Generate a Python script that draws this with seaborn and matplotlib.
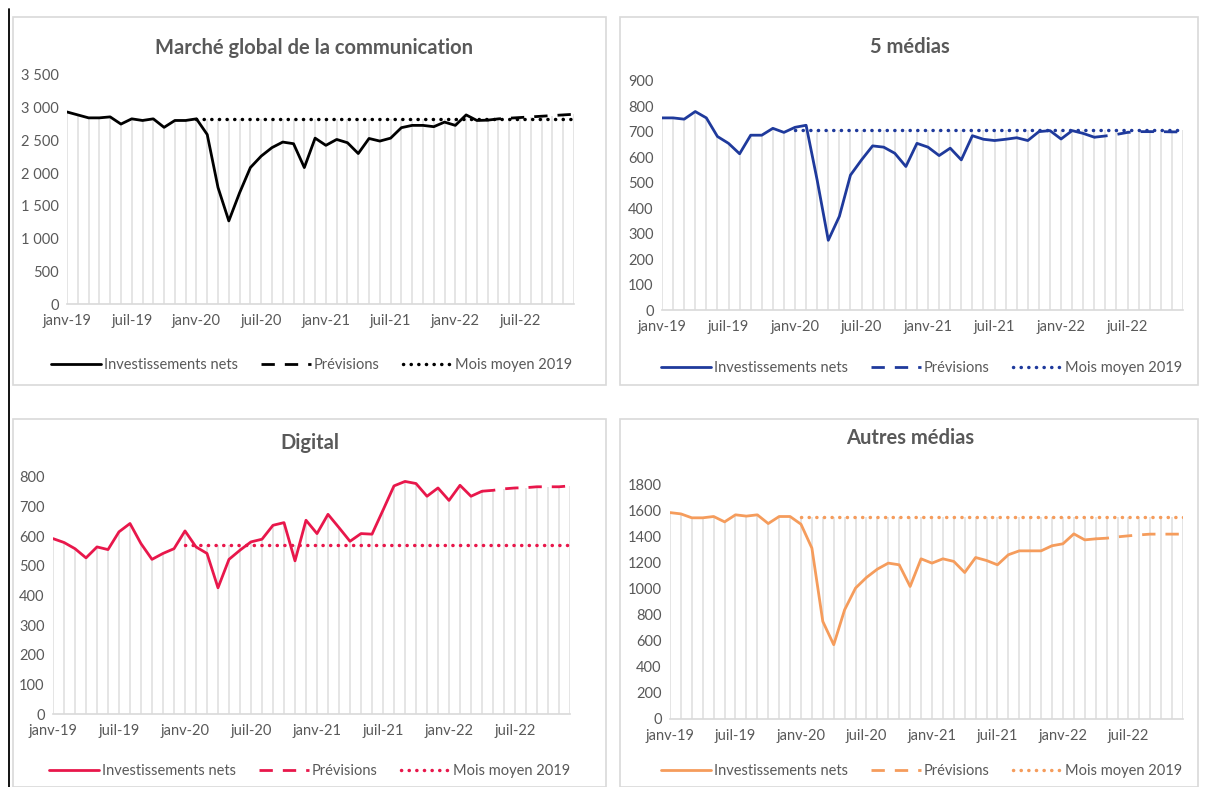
import numpy as np
import pandas as pd
import matplotlib
matplotlib.use("Agg")
import matplotlib.pyplot as plt
from matplotlib.lines import Line2D
from matplotlib.patches import Rectangle
import matplotlib.ticker as mticker
import seaborn as sns

# ---------------- data ----------------
month_names = ["janv", "févr", "mars", "avr", "mai", "juin",
               "juil", "août", "sept", "oct", "nov", "déc"]
years = ["19", "20", "21", "22"]
months = [f"{m}-{y}" for y in years for m in month_names]  # 48 months

titles = ["Marché global de la communication", "5 médias", "Digital", "Autres médias"]

global_actual = [2935, 2890, 2845, 2845, 2860, 2750, 2830, 2805, 2830, 2700, 2805, 2805,
                 2830, 2590, 1780, 1270, 1700, 2085, 2260, 2390, 2475, 2450, 2085, 2535,
                 2425, 2515, 2465, 2300, 2530, 2490, 2535, 2695, 2730, 2730, 2710, 2780,
                 2730, 2890, 2805, 2810]
global_forecast = [2810, 2830, 2840, 2850, 2860, 2870, 2880, 2890, 2900]
global_mean = 2822

medias5_actual = [755, 755, 750, 780, 755, 682, 655, 614, 687, 687, 714, 698,
                  718, 726, 510, 274, 368, 530, 590, 645, 640, 616, 564, 655,
                  640, 607, 636, 590, 685, 671, 666, 671, 677, 666, 701, 705,
                  672, 705, 694, 679]
medias5_forecast = [679, 684, 690, 698, 701, 701, 701, 700, 700]
medias5_mean = 707

digital_actual = [592, 579, 558, 527, 564, 555, 615, 643, 575, 522, 542, 558,
                  618, 564, 542, 426, 522, 553, 581, 590, 637, 646, 517, 654,
                  609, 674, 629, 583, 609, 607, 688, 770, 785, 778, 735, 763,
                  721, 772, 735, 752]
digital_forecast = [752, 755, 760, 763, 764, 767, 767, 767, 770]
digital_mean = 570

autres_actual = [1581, 1571, 1541, 1541, 1551, 1510, 1564, 1554, 1564, 1497, 1551, 1551,
                 1492, 1309, 747, 569, 837, 1003, 1084, 1148, 1194, 1181, 1015, 1227,
                 1194, 1227, 1207, 1122, 1237, 1214, 1181, 1258, 1288, 1288, 1288, 1327,
                 1342, 1418, 1372, 1380]
autres_forecast = [1380, 1385, 1395, 1403, 1410, 1416, 1416, 1416, 1416]
autres_mean = 1546

mean_start = 12  # janv-20
forecast_start = 39  # avr-22

colors = ["#000000", "#1F3A9C", "#E8174B", "#F59C5C"]
ylims = [3500, 900, 800, 1800]
ysteps = [500, 100, 100, 200]
thousand_sep = [True, False, False, False]

series = [
    (global_actual, global_forecast, global_mean),
    (medias5_actual, medias5_forecast, medias5_mean),
    (digital_actual, digital_forecast, digital_mean),
    (autres_actual, autres_forecast, autres_mean),
]

# ---------------- style ----------------
sns.set_theme(style="white")
plt.rcParams["font.family"] = ["Lato", "DejaVu Sans"]
TXT = "#595959"
GRID = "#D9D9D9"
DROP = "#DEDEDE"

W, H = 1205, 787
fig = plt.figure(figsize=(W / 100, H / 100), dpi=100)
fig.patch.set_facecolor("white")

def fx(px):
    return px / W

def fy(py):
    return 1 - py / H

# panel frames (pixels: left, top, right, bottom)
frames = [(13, 17, 606, 385), (620, 17, 1198, 385), (13, 419, 606, 787), (620, 419, 1198, 787)]
for (l, t, r, b) in frames:
    fig.patches.append(Rectangle((fx(l), fy(b)), fx(r - l), (b - t) / H,
                                 transform=fig.transFigure, fill=False,
                                 edgecolor=GRID, linewidth=1.2, zorder=0))

# page border line on the left
fig.add_artist(Line2D([fx(8.5), fx(8.5)], [0, fy(9)], color="black", lw=1.3,
                      transform=fig.transFigure))

# axes positions (pixels: x of first month, x of last month, y of zero, y of max)
axpos = [(67, 574, 304, 75), (662, 1183, 310, 81), (53, 570, 714, 477), (670, 1183, 719, 484)]
title_pos = [(314, 48), (910, 47), (310, 443), (910, 438)]
legend_pos = [(312, 365), (922, 368), (310, 771), (922, 771)]

DASH = (0, (4.8, 3.6))
DOT = (0, (0.05, 2.15))

for k in range(4):
    actual, forecast, mean_v = series[k]
    x0, x1, y0, y1 = axpos[k]
    ax = fig.add_axes([fx(x0), fy(y0), fx(x1 - x0), (y0 - y1) / H])
    ax.set_facecolor("none")
    col = colors[k]

    idx_act = np.arange(len(actual))
    idx_fc = np.arange(forecast_start, forecast_start + len(forecast))
    idx_mean = np.arange(mean_start, len(months))
    mean_vals = [mean_v] * len(idx_mean)

    # drop lines: from axis to highest value in each month
    top = np.zeros(len(months))
    top[idx_act] = np.maximum(top[idx_act], actual)
    top[idx_fc] = np.maximum(top[idx_fc], forecast)
    top[idx_mean] = np.maximum(top[idx_mean], mean_vals)
    ax.vlines(np.arange(len(months)), 0, top, color=DROP, lw=1.1, zorder=1)

    df_a = pd.DataFrame({"m": idx_act, "v": actual})
    df_f = pd.DataFrame({"m": idx_fc, "v": forecast})
    df_m = pd.DataFrame({"m": idx_mean, "v": mean_vals})

    sns.lineplot(data=df_m, x="m", y="v", ax=ax, color=col, lw=2.5,
                 linestyle=DOT, dash_capstyle="round", zorder=2)
    sns.lineplot(data=df_f, x="m", y="v", ax=ax, color=col, lw=2.0,
                 linestyle=DASH, zorder=3)
    sns.lineplot(data=df_a, x="m", y="v", ax=ax, color=col, lw=2.0,
                 solid_joinstyle="round", zorder=4)

    ax.set_xlim(0, len(months) - 1)
    ax.set_ylim(0, ylims[k])
    ax.set_xlabel("")
    ax.set_ylabel("")
    ticks = list(range(0, len(months), 6))
    ax.set_xticks(ticks)
    ax.set_xticklabels([months[i] for i in ticks])
    ax.yaxis.set_major_locator(mticker.MultipleLocator(ysteps[k]))
    if thousand_sep[k]:
        ax.yaxis.set_major_formatter(mticker.FuncFormatter(
            lambda v, p: f"{int(v):,}".replace(",", " ")))
    else:
        ax.yaxis.set_major_formatter(mticker.FuncFormatter(lambda v, p: f"{int(v)}"))

    for s in ["top", "right", "left"]:
        ax.spines[s].set_visible(False)
    ax.spines["bottom"].set_color(GRID)
    ax.spines["bottom"].set_linewidth(1.2)
    ax.tick_params(axis="x", colors=TXT, labelsize=10.5, length=4, width=1.2,
                   color=GRID, pad=3)
    ax.tick_params(axis="y", colors=TXT, labelsize=10.5, length=0, pad=6)
    ax.grid(False)

    tx, ty = title_pos[k]
    fig.text(fx(tx), fy(ty), titles[k], ha="center", va="center",
             fontsize=14.5, fontweight="bold", color=TXT)

    handles = [
        Line2D([], [], color=col, lw=2.0),
        Line2D([], [], color=col, lw=2.0, linestyle=DASH),
        Line2D([], [], color=col, lw=2.5, linestyle=DOT, dash_capstyle="round"),
    ]
    labels = ["Investissements nets", "Prévisions", "Mois moyen 2019"]
    lx, ly = legend_pos[k]
    leg = ax.legend(handles, labels, loc="center", bbox_to_anchor=(fx(lx), fy(ly)),
                    bbox_transform=fig.transFigure, ncol=3, frameon=False,
                    fontsize=10.5, handlelength=3.4, handletextpad=0.2,
                    columnspacing=1.6, borderaxespad=0)
    for t in leg.get_texts():
        t.set_color(TXT)

fig.savefig("out.png", dpi=100, facecolor="white")
